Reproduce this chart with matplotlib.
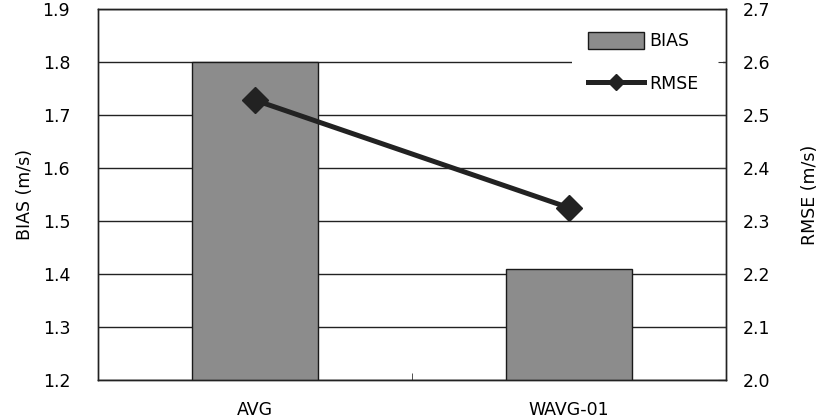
import matplotlib
matplotlib.use("Agg")
import matplotlib.pyplot as plt
from matplotlib.ticker import FixedLocator
from matplotlib.patches import Rectangle

categories = ["AVG", "WAVG-01"]
bias = [1.80, 1.41]
rmse = [2.528, 2.325]
bias_ticks = [1.2, 1.3, 1.4, 1.5, 1.6, 1.7, 1.8, 1.9]
rmse_ticks = [2.0, 2.1, 2.2, 2.3, 2.4, 2.5, 2.6, 2.7]

plt.rcParams['font.family'] = ['DejaVu Sans']
fs = 12.5

fig = plt.figure(figsize=(8.28, 4.2), dpi=100)
ax = fig.add_axes([98/828, 40/420, 628/828, 371/420])
x = list(range(len(categories)))

ax.set_axisbelow(True)
ax.yaxis.grid(True, color='#222222', lw=1.0)
bars = ax.bar(x, bias, width=0.4, color='#8c8c8c', edgecolor='#1a1a1a', lw=1.0, label='BIAS', zorder=2)
ax.set_xlim(-0.5, 1.5)
ax.set_ylim(bias_ticks[0], bias_ticks[-1])
ax.set_yticks(bias_ticks)
ax.set_yticklabels([f"{v:.1f}" for v in bias_ticks], fontsize=fs)
ax.tick_params(axis='y', length=0, pad=20)
ax.set_xticks(x)
ax.set_xticklabels(categories, fontsize=fs)
ax.tick_params(axis='x', which='major', length=0, pad=15)
ax.xaxis.set_minor_locator(FixedLocator([0.5]))
ax.tick_params(axis='x', which='minor', direction='in', length=5, color='#333333')
ax.set_ylabel("BIAS (m/s)", fontsize=fs, labelpad=6)
for s in ax.spines.values():
    s.set_color('#222222')
    s.set_linewidth(1.0)

ax2 = ax.twinx()
# white backing behind the legend (hides the grid line, stops just short of the right spine)
ax2.add_patch(Rectangle((474/628, 1 - 90/371), 151/628, 62/371, transform=ax2.transAxes,
                        facecolor='white', edgecolor='none', zorder=0.5))
line, = ax2.plot(x, rmse, color='#222222', lw=3.6, marker='D', markersize=13, label='RMSE', zorder=3)
ax2.set_ylim(rmse_ticks[0], rmse_ticks[-1])
ax2.set_yticks(rmse_ticks)
ax2.set_yticklabels([f"{v:.1f}" for v in rmse_ticks], fontsize=fs)
ax2.tick_params(axis='y', direction='in', length=6, pad=12, color='#333333')
ax2.set_ylabel("RMSE (m/s)", fontsize=fs, labelpad=22)
for s in ax2.spines.values():
    s.set_color('#222222')
    s.set_linewidth(1.0)
    s.set_zorder(5)

leg = ax2.legend([bars, line], ['BIAS', 'RMSE'], loc='upper right', bbox_to_anchor=(0.978, 0.975),
                 fontsize=fs, frameon=False, handlelength=3.2, handleheight=1.1, handletextpad=0.3,
                 labelspacing=1.4, borderpad=0.6, borderaxespad=0.2, markerscale=0.6)

fig.savefig("out.png", dpi=100)
